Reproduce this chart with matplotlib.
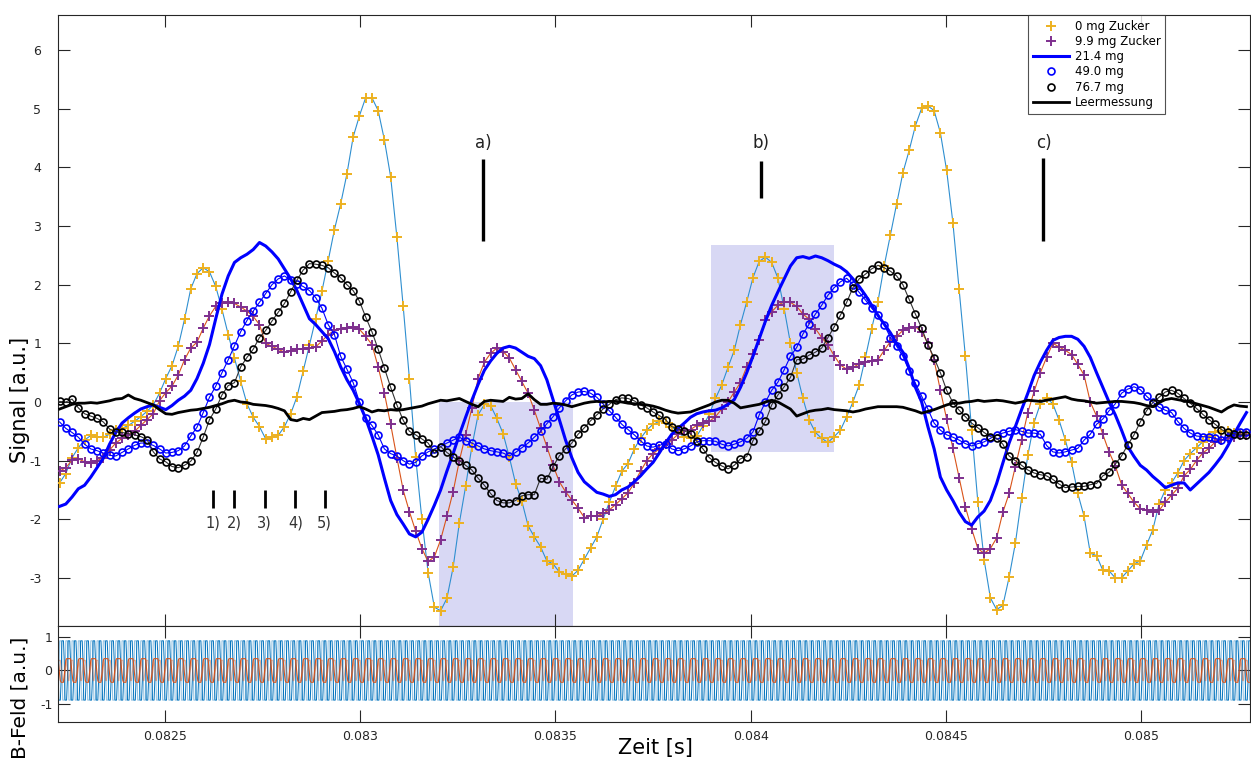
import numpy as np
import matplotlib
matplotlib.use("Agg")
import matplotlib.pyplot as plt
from matplotlib.lines import Line2D
from matplotlib.ticker import FuncFormatter

# ---------------------------------------------------------------------------
# Magnetometer signals (sampled at 62.5 kHz)
# ---------------------------------------------------------------------------
t_start = 0.08223
t_step = 1.6e-5

sig_0mg = [
    -1.38, -1.22, -0.95, -0.78, -0.65, -0.57, -0.60, -0.60, -0.55, -0.48,
    -0.45, -0.40, -0.33, -0.25, -0.16, -0.05, 0.15, 0.40, 0.62, 0.95,
    1.41, 1.93, 2.19, 2.29, 2.22, 1.97, 1.58, 1.15, 0.75, 0.35,
    -0.03, -0.26, -0.42, -0.63, -0.60, -0.57, -0.42, -0.20, 0.09, 0.53,
    0.97, 1.42, 1.89, 2.41, 2.94, 3.38, 3.89, 4.52, 4.88, 5.19,
    5.19, 4.97, 4.47, 3.84, 2.81, 1.64, 0.40, -0.94, -2.00, -2.91,
    -3.50, -3.56, -3.35, -2.82, -2.06, -1.44, -0.76, -0.22, -0.04, -0.06,
    -0.28, -0.54, -0.94, -1.39, -1.69, -2.11, -2.30, -2.47, -2.71, -2.76,
    -2.90, -2.94, -2.97, -2.87, -2.68, -2.49, -2.30, -2.00, -1.71, -1.44,
    -1.18, -1.05, -0.80, -0.62, -0.48, -0.38, -0.33, -0.35, -0.42, -0.52,
    -0.60, -0.62, -0.58, -0.41, -0.21, 0.06, 0.29, 0.59, 0.88, 1.32,
    1.71, 2.12, 2.40, 2.47, 2.38, 2.11, 1.59, 1.00, 0.50, 0.06,
    -0.31, -0.52, -0.62, -0.69, -0.59, -0.48, -0.25, 0.00, 0.29, 0.76,
    1.25, 1.71, 2.32, 2.85, 3.38, 3.91, 4.29, 4.71, 5.01, 5.05,
    4.97, 4.59, 3.95, 3.06, 1.93, 0.78, -0.47, -1.71, -2.69, -3.34,
    -3.54, -3.47, -2.99, -2.41, -1.64, -0.91, -0.35, -0.03, 0.07, -0.03,
    -0.31, -0.65, -1.03, -1.56, -1.95, -2.58, -2.62, -2.87, -2.88, -3.00,
    -3.00, -2.88, -2.76, -2.71, -2.44, -2.18, -1.74, -1.50, -1.38, -1.21,
    -1.00, -0.88, -0.78, -0.68, -0.58, -0.52, -0.50, -0.50, -0.53, -0.55,
    -0.55,
]

sig_9p9mg = [
    -1.18, -1.12, -0.99, -0.97, -1.02, -1.04, -1.00, -0.95, -0.82, -0.70,
    -0.62, -0.56, -0.50, -0.40, -0.30, -0.20, 0.02, 0.16, 0.27, 0.46,
    0.72, 0.92, 1.02, 1.26, 1.47, 1.63, 1.68, 1.70, 1.68, 1.62,
    1.55, 1.46, 1.32, 1.00, 0.95, 0.90, 0.85, 0.87, 0.90, 0.91,
    0.92, 0.94, 1.04, 1.15, 1.22, 1.25, 1.27, 1.28, 1.24, 1.12,
    0.98, 0.60, 0.15, -0.38, -0.95, -1.50, -1.87, -2.20, -2.50, -2.72,
    -2.64, -2.35, -1.95, -1.53, -1.00, -0.56, -0.10, 0.40, 0.68, 0.83,
    0.92, 0.86, 0.75, 0.55, 0.35, 0.15, -0.14, -0.45, -0.76, -1.08,
    -1.36, -1.53, -1.67, -1.81, -1.97, -1.94, -1.94, -1.90, -1.84, -1.75,
    -1.65, -1.55, -1.38, -1.18, -1.00, -0.88, -0.80, -0.72, -0.65, -0.55,
    -0.47, -0.47, -0.40, -0.36, -0.33, -0.25, -0.12, 0.00, 0.17, 0.33,
    0.60, 0.82, 1.06, 1.40, 1.54, 1.65, 1.71, 1.70, 1.63, 1.50,
    1.41, 1.25, 1.10, 0.97, 0.79, 0.63, 0.56, 0.59, 0.65, 0.69,
    0.70, 0.72, 0.88, 1.03, 1.12, 1.22, 1.27, 1.28, 1.20, 1.00,
    0.71, 0.20, -0.29, -0.79, -1.29, -1.79, -2.16, -2.50, -2.58, -2.50,
    -2.32, -1.88, -1.56, -1.10, -0.65, -0.18, 0.18, 0.50, 0.76, 1.00,
    0.94, 0.88, 0.81, 0.64, 0.46, 0.00, -0.24, -0.55, -0.85, -1.09,
    -1.41, -1.56, -1.71, -1.82, -1.85, -1.87, -1.85, -1.71, -1.59, -1.47,
    -1.26, -1.15, -1.00, -0.87, -0.79, -0.68, -0.65, -0.62, -0.59, -0.56,
    -0.56,
]

sig_21p4mg = [
    -1.78, -1.74, -1.62, -1.48, -1.42, -1.28, -1.12, -0.96, -0.72, -0.52,
    -0.36, -0.27, -0.19, -0.12, -0.08, -0.05, -0.09, -0.13, -0.06, 0.03,
    0.10, 0.20, 0.40, 0.66, 0.98, 1.42, 1.84, 2.15, 2.38, 2.46,
    2.52, 2.60, 2.72, 2.66, 2.56, 2.44, 2.27, 2.10, 1.90, 1.66,
    1.42, 1.32, 1.20, 1.08, 0.86, 0.60, 0.38, 0.20, -0.03, -0.28,
    -0.58, -0.90, -1.30, -1.68, -1.92, -2.08, -2.25, -2.30, -2.22, -2.00,
    -1.76, -1.50, -1.18, -0.88, -0.56, -0.26, 0.03, 0.30, 0.54, 0.70,
    0.83, 0.92, 0.95, 0.92, 0.85, 0.78, 0.74, 0.62, 0.38, 0.04,
    -0.30, -0.65, -0.95, -1.20, -1.36, -1.45, -1.54, -1.57, -1.61, -1.58,
    -1.50, -1.45, -1.36, -1.26, -1.14, -1.03, -0.87, -0.70, -0.55, -0.45,
    -0.36, -0.26, -0.20, -0.17, -0.15, -0.14, -0.10, -0.04, 0.04, 0.25,
    0.50, 0.78, 1.08, 1.38, 1.65, 1.88, 2.10, 2.32, 2.46, 2.48,
    2.45, 2.49, 2.46, 2.41, 2.35, 2.30, 2.22, 2.10, 1.97, 1.82,
    1.65, 1.48, 1.33, 1.18, 1.00, 0.85, 0.58, 0.25, 0.00, -0.42,
    -0.80, -1.28, -1.50, -1.68, -1.88, -2.04, -2.10, -1.96, -1.86, -1.68,
    -1.39, -1.04, -0.70, -0.42, -0.13, 0.15, 0.45, 0.68, 0.88, 1.05,
    1.10, 1.12, 1.12, 1.07, 0.95, 0.76, 0.50, 0.25, 0.00, -0.22,
    -0.48, -0.76, -0.93, -1.08, -1.16, -1.27, -1.36, -1.46, -1.42, -1.38,
    -1.38, -1.50, -1.40, -1.30, -1.20, -1.07, -0.93, -0.75, -0.55, -0.36,
    -0.18,
]

sig_49mg = [
    -0.34, -0.45, -0.52, -0.60, -0.72, -0.80, -0.83, -0.87, -0.91, -0.92,
    -0.86, -0.80, -0.74, -0.70, -0.70, -0.74, -0.80, -0.87, -0.86, -0.83,
    -0.75, -0.58, -0.43, -0.18, 0.08, 0.27, 0.50, 0.72, 0.96, 1.20,
    1.39, 1.55, 1.70, 1.85, 2.00, 2.10, 2.15, 2.08, 2.02, 1.97,
    1.90, 1.78, 1.60, 1.32, 1.15, 0.78, 0.56, 0.33, 0.00, -0.28,
    -0.40, -0.56, -0.80, -0.88, -0.92, -1.00, -1.06, -1.03, -0.92, -0.85,
    -0.80, -0.76, -0.70, -0.65, -0.60, -0.66, -0.70, -0.75, -0.80, -0.83,
    -0.85, -0.87, -0.92, -0.86, -0.78, -0.70, -0.60, -0.50, -0.37, -0.25,
    -0.10, 0.02, 0.12, 0.17, 0.18, 0.15, 0.08, -0.03, -0.15, -0.26,
    -0.38, -0.47, -0.56, -0.66, -0.75, -0.77, -0.74, -0.71, -0.80, -0.83,
    -0.80, -0.75, -0.68, -0.66, -0.66, -0.67, -0.72, -0.75, -0.72, -0.68,
    -0.62, -0.51, -0.22, 0.00, 0.20, 0.34, 0.55, 0.78, 0.93, 1.16,
    1.33, 1.50, 1.65, 1.82, 1.95, 2.05, 2.11, 2.00, 1.87, 1.74,
    1.60, 1.48, 1.32, 1.10, 0.95, 0.78, 0.53, 0.32, 0.10, -0.12,
    -0.36, -0.48, -0.56, -0.60, -0.65, -0.71, -0.75, -0.71, -0.68, -0.62,
    -0.56, -0.53, -0.50, -0.47, -0.50, -0.53, -0.53, -0.55, -0.74, -0.85,
    -0.87, -0.85, -0.82, -0.79, -0.65, -0.55, -0.38, -0.29, -0.15, -0.03,
    0.15, 0.22, 0.26, 0.21, 0.10, 0.00, -0.09, -0.14, -0.18, -0.33,
    -0.45, -0.53, -0.58, -0.59, -0.60, -0.62, -0.65, -0.60, -0.54, -0.52,
    -0.52,
]

sig_76p7mg = [
    0.01, 0.00, 0.05, -0.10, -0.20, -0.24, -0.28, -0.34, -0.46, -0.51,
    -0.52, -0.54, -0.56, -0.59, -0.64, -0.85, -0.97, -1.02, -1.10, -1.12,
    -1.08, -1.01, -0.86, -0.60, -0.30, -0.12, 0.12, 0.28, 0.33, 0.60,
    0.76, 0.90, 1.10, 1.22, 1.38, 1.53, 1.68, 1.88, 2.08, 2.25,
    2.36, 2.35, 2.33, 2.29, 2.20, 2.12, 2.00, 1.90, 1.72, 1.45,
    1.20, 0.90, 0.58, 0.25, -0.05, -0.31, -0.50, -0.56, -0.63, -0.70,
    -0.87, -0.76, -0.86, -0.94, -1.00, -1.08, -1.16, -1.30, -1.42, -1.56,
    -1.68, -1.72, -1.72, -1.68, -1.60, -1.58, -1.58, -1.30, -1.32, -1.10,
    -0.92, -0.80, -0.70, -0.55, -0.44, -0.32, -0.22, -0.12, -0.04, 0.04,
    0.07, 0.06, 0.02, -0.05, -0.10, -0.17, -0.23, -0.30, -0.42, -0.46,
    -0.49, -0.54, -0.67, -0.80, -0.95, -1.03, -1.09, -1.14, -1.08, -0.97,
    -0.93, -0.66, -0.50, -0.33, -0.05, 0.12, 0.26, 0.42, 0.72, 0.73,
    0.80, 0.85, 0.92, 1.10, 1.28, 1.48, 1.70, 1.95, 2.10, 2.18,
    2.27, 2.33, 2.29, 2.23, 2.15, 2.00, 1.75, 1.50, 1.26, 0.98,
    0.75, 0.50, 0.20, -0.01, -0.14, -0.25, -0.36, -0.44, -0.52, -0.59,
    -0.62, -0.72, -0.92, -1.00, -1.08, -1.16, -1.21, -1.24, -1.26, -1.32,
    -1.40, -1.46, -1.45, -1.44, -1.44, -1.41, -1.39, -1.26, -1.20, -1.06,
    -0.92, -0.73, -0.56, -0.34, -0.15, -0.01, 0.08, 0.17, 0.20, 0.15,
    0.06, -0.02, -0.11, -0.21, -0.30, -0.38, -0.47, -0.52, -0.54, -0.56,
    -0.56,
]

sig_leer = [
    -0.12, -0.08, -0.04, -0.02, -0.02, -0.01, -0.02, 0.00, 0.02, 0.05,
    0.06, 0.12, 0.06, 0.03, -0.01, -0.05, -0.13, -0.20, -0.21, -0.18,
    -0.16, -0.14, -0.13, -0.11, -0.09, -0.06, -0.03, 0.01, 0.03, 0.00,
    -0.01, -0.04, -0.05, -0.06, -0.08, -0.11, -0.15, -0.30, -0.32, -0.28,
    -0.30, -0.24, -0.18, -0.17, -0.16, -0.14, -0.13, -0.11, -0.08, -0.12,
    -0.17, -0.14, -0.15, -0.13, -0.14, -0.13, -0.11, -0.09, -0.07, -0.03,
    0.00, 0.03, 0.02, 0.04, 0.06, 0.01, -0.04, -0.08, 0.01, 0.03,
    0.02, 0.01, 0.08, 0.05, 0.06, 0.14, 0.04, -0.04, -0.04, -0.02,
    -0.03, -0.05, -0.08, -0.05, -0.02, 0.00, 0.01, 0.00, 0.01, 0.01,
    0.00, -0.02, -0.03, -0.04, -0.05, -0.07, -0.10, -0.14, -0.17, -0.19,
    -0.18, -0.17, -0.13, -0.09, -0.05, 0.00, 0.03, 0.03, -0.02, -0.10,
    -0.08, -0.06, -0.04, 0.00, 0.03, 0.00, -0.06, -0.12, -0.24, -0.20,
    -0.16, -0.14, -0.13, -0.11, -0.13, -0.14, -0.15, -0.17, -0.15, -0.12,
    -0.10, -0.08, -0.08, -0.08, -0.08, -0.09, -0.12, -0.15, -0.19, -0.16,
    -0.13, -0.09, -0.05, -0.02, -0.02, 0.00, 0.01, 0.03, 0.01, 0.02,
    0.03, 0.02, 0.00, -0.02, 0.00, 0.03, 0.02, 0.01, 0.03, 0.05,
    0.07, 0.09, 0.05, 0.03, 0.02, 0.00, -0.02, -0.01, 0.00, 0.01,
    0.01, 0.00, -0.01, -0.03, -0.06, -0.08, -0.01, 0.04, 0.06, 0.04,
    0.02, 0.00, -0.03, -0.06, -0.09, -0.13, -0.17, -0.10, -0.05, -0.07,
    -0.08,
]

# ---------------------------------------------------------------------------
# Excitation field (two coil channels, each recorded twice)
# ---------------------------------------------------------------------------
b_start = 0.08222
b_step = 2.0e-6
b_cycles = 200
coil1_cycle = [0.88, 0.88, 0.88, 0.30, -0.88, -0.88, -0.88, -0.30]
coil1b_cycle = [0.30, -0.88, -0.88, -0.88, -0.30, 0.88, 0.88, 0.88]
coil2_cycle = [0.35, 0.35, 0.35, 0.35, 0.15, -0.10, -0.30, -0.35,
               -0.35, -0.35, -0.35, -0.15, 0.10, 0.30, 0.35, 0.35]
coil2b_cycle = [-0.30, -0.30, -0.10, 0.10, 0.30, 0.30, 0.30, 0.10,
                -0.10, -0.30, -0.30, -0.30, -0.10, 0.10, 0.30, 0.10]

# analysis windows and event markers
windows = [(0.083202, 0.083545, -3.82, 0.0), (0.083899, 0.084214, -0.85, 2.67)]
event_times = [0.083315, 0.084027, 0.08475]
event_labels = ["a)", "b)", "c)"]
event_spans = [(2.74, 4.15), (3.48, 4.11), (2.74, 4.16)]
phase_times = [0.082623, 0.082677, 0.082755, 0.082834, 0.082909]
phase_labels = ["1)", "2)", "3)", "4)", "5)"]

# ---------------------------------------------------------------------------
plt.rcParams["font.family"] = ["DejaVu Sans"]
plt.rcParams["axes.unicode_minus"] = False

W, H = 1251, 760
fig = plt.figure(figsize=(W / 100, H / 100), dpi=100)
ax = fig.add_axes([58 / W, 1 - 626 / H, 1192 / W, 611 / H])
axb = fig.add_axes([58 / W, 1 - 722 / H, 1192 / W, 96 / H], sharex=ax)

t = t_start + t_step * np.arange(len(sig_0mg))

for (ta, tb, ya, yb) in windows:
    ax.fill_between([ta, tb], [ya, ya], [yb, yb], color="#d8d8f4", lw=0, zorder=0)

c_yel = "#EDB120"
c_pur = "#7E2F8E"
ax.plot(t, sig_0mg, color="#2f8fd0", lw=0.8, zorder=2)
ax.plot(t, sig_0mg, ls="none", marker="+", ms=7, mew=1.4, color=c_yel, zorder=3)
ax.plot(t, sig_9p9mg, color="#D95319", lw=0.8, zorder=2)
ax.plot(t, sig_9p9mg, ls="none", marker="+", ms=7, mew=1.4, color=c_pur, zorder=3)
ax.plot(t, sig_21p4mg, color="#0000FF", lw=2.2, zorder=4)
ax.plot(t, sig_49mg, color="#0000FF", lw=0.8, zorder=4)
ax.plot(t, sig_49mg, ls="none", marker="o", ms=5, mew=1.2, mfc="none",
        mec="#0000FF", zorder=4)
ax.plot(t, sig_76p7mg, color="#333333", lw=0.8, zorder=5)
ax.plot(t, sig_76p7mg, ls="none", marker="o", ms=5, mew=1.2, mfc="none",
        mec="black", zorder=5)
ax.plot(t, sig_leer, color="black", lw=2.0, zorder=6)

for te, lab, (y0, y1) in zip(event_times, event_labels, event_spans):
    ax.plot([te, te], [y0, y1], color="black", lw=2.4, solid_capstyle="butt", zorder=7)
    ax.text(te, 4.42, lab, ha="center", va="center", fontsize=12, color="#222222")
for tp, lab in zip(phase_times, phase_labels):
    ax.plot([tp, tp], [-1.5, -1.81], color="black", lw=2.0, solid_capstyle="butt", zorder=7)
    ax.text(tp, -2.06, lab, ha="center", va="center", fontsize=10.5, color="#333333")

ax.set_xlim(0.082226, 0.085279)
ax.set_ylim(-3.82, 6.6)
ax.set_yticks(range(-3, 7))
ax.set_ylabel("Signal [a.u.]", fontsize=15)
ax.yaxis.set_label_coords(-0.0235, 0.37)

handles = [
    Line2D([], [], ls="none", marker="+", ms=7, mew=1.4, color=c_yel),
    Line2D([], [], ls="none", marker="+", ms=7, mew=1.4, color=c_pur),
    Line2D([], [], color="#0000FF", lw=2.2),
    Line2D([], [], ls="none", marker="o", ms=5, mew=1.2, mfc="none", mec="#0000FF"),
    Line2D([], [], ls="none", marker="o", ms=5, mew=1.2, mfc="none", mec="black"),
    Line2D([], [], color="black", lw=2.0),
]
labels = ["0 mg Zucker", "9.9 mg Zucker", "21.4 mg", "49.0 mg", "76.7 mg", "Leermessung"]
leg = fig.legend(handles, labels, loc="upper left",
                 bbox_to_anchor=(1028 / W, 1 - 15 / H), borderaxespad=0,
                 fontsize=8.5, frameon=True, fancybox=False, handlelength=3.1,
                 handletextpad=0.45, labelspacing=0.19, borderpad=0.4, numpoints=1)
leg.get_frame().set_edgecolor("#262626")
leg.get_frame().set_linewidth(0.8)

# excitation field panel
tb_axis = b_start + b_step * np.arange(b_cycles * len(coil1_cycle))
coil1 = np.tile(coil1_cycle, b_cycles)
coil1b = np.tile(coil1b_cycle, b_cycles)
tb2 = b_start + b_step * np.arange(b_cycles // 2 * len(coil2_cycle))
coil2 = np.tile(coil2_cycle, b_cycles // 2)
coil2b = np.tile(coil2b_cycle, b_cycles // 2)
axb.plot(tb_axis, coil1b, color="#0072BD", alpha=0.45, lw=0.7)
axb.plot(tb_axis, coil1, color="#0072BD", lw=0.7)
axb.plot(tb2, coil2b, color="#D95319", alpha=0.45, lw=0.8)
axb.plot(tb2, coil2, color="#D95319", lw=0.8)
axb.set_ylim(-1.53, 1.32)
axb.set_yticks([-1, 0, 1])
axb.set_xticks(np.arange(0.0825, 0.08501, 0.0005))
axb.xaxis.set_major_formatter(FuncFormatter(lambda v, p: "%g" % round(v, 5)))
axb.set_xlabel("Zeit [s]", fontsize=15)
axb.xaxis.set_label_coords(0.501, -0.165)
axb.set_ylabel("B-Feld [a.u.]", fontsize=14.5)
axb.yaxis.set_label_coords(-0.0235, 0.25)

for a, pad in ((ax, 12), (axb, 4)):
    a.tick_params(direction="in", length=8.5, width=0.8, top=True, right=True,
                  colors="#262626", labelsize=9)
    a.tick_params(axis="y", pad=pad)
    for s in a.spines.values():
        s.set_color("#262626")
        s.set_linewidth(0.8)
axb.tick_params(axis="x", pad=6)
ax.tick_params(labelbottom=False)

fig.savefig("out.png", dpi=100)
